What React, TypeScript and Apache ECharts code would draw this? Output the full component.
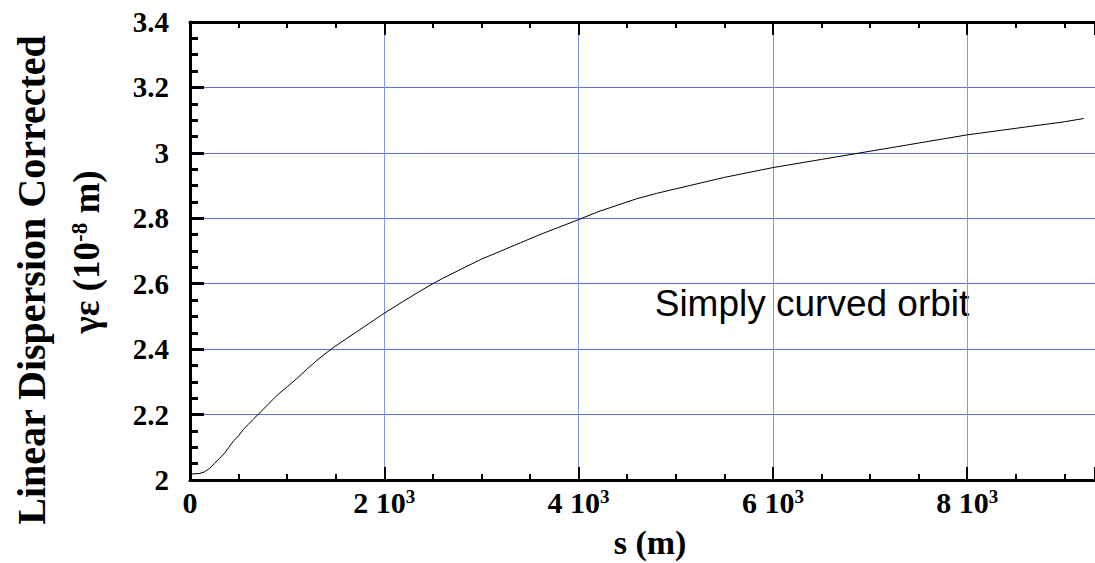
import React, { useEffect, useRef } from 'react';
import * as echarts from 'echarts';

// s (m)
const sValues = [
  0, 100, 150, 200, 250, 300, 350, 400, 450, 500, 550, 600, 650, 700, 800, 900, 1000,
  1100, 1200, 1300, 1400, 1500, 1600, 1700, 1800, 1900, 2000, 2200, 2400, 2500, 2600,
  2800, 3000, 3200, 3400, 3600, 3800, 4000, 4200, 4400, 4600, 4800, 5000, 5500, 6000,
  6500, 7000, 7500, 8000, 8500, 9000, 9200,
];
// γε (10^-8 m)
const emittance = [
  2.018, 2.02, 2.025, 2.035, 2.05, 2.065, 2.08, 2.1, 2.12, 2.135, 2.155, 2.17, 2.185, 2.2,
  2.23, 2.26, 2.285, 2.31, 2.338, 2.364, 2.388, 2.41, 2.43, 2.45, 2.47, 2.49, 2.51, 2.547,
  2.583, 2.6, 2.616, 2.646, 2.675, 2.7, 2.725, 2.75, 2.773, 2.796, 2.82, 2.84, 2.86, 2.876,
  2.89, 2.925, 2.955, 2.98, 3.005, 3.03, 3.055, 3.075, 3.095, 3.105,
];
const xTickValues = [0, 2000, 4000, 6000, 8000];
const xTickMantissas = ['0', '2', '4', '6', '8'];
const yTitleLine1 = 'Linear Dispersion Corrected';
const xTitle = 's (m)';
const annotation = 'Simply curved orbit';

const SERIF = '"Liberation Serif", "Times New Roman", serif';
const SANS = '"Liberation Sans", Arial, sans-serif';

export default function App() {
  const ref = useRef<HTMLDivElement>(null);
  useEffect(() => {
    if (!ref.current) return;
    const chart = echarts.init(ref.current, null, { renderer: 'svg' });
    const data = sValues.map((s, i) => [s, emittance[i]]);
    const xFormatter = (v: number) => {
      const idx = xTickValues.indexOf(v);
      if (idx < 0) return '';
      if (v === 0) return '{n|' + xTickMantissas[idx] + '}';
      return '{n|' + xTickMantissas[idx] + ' 10}{sup|3}';
    };
    const xMax = 9315;
    const xAxisCommon = {
      type: 'value',
      min: 0,
      max: xMax,
      interval: 2000,
      axisLine: { show: true, lineStyle: { color: '#000', width: 3 } },
      axisTick: { show: true, inside: true, length: 13, lineStyle: { color: '#000', width: 2 } },
      minorTick: { show: true, splitNumber: 4, length: 6, lineStyle: { color: '#000', width: 2 } },
    };
    chart.setOption({
      animation: false,
      backgroundColor: '#fff',
      grid: { left: 190, top: 22, bottom: 83, right: 0, containLabel: false },
      xAxis: [
        {
          ...xAxisCommon,
          position: 'bottom',
          axisLabel: {
            formatter: xFormatter,
            margin: 7,
            showMaxLabel: false,
            rich: {
              n: { fontFamily: SERIF, fontWeight: 'bold', fontSize: 30, color: '#000' },
              sup: { fontFamily: SERIF, fontWeight: 'bold', fontSize: 19, color: '#000', verticalAlign: 'top' },
            },
          },
          splitLine: { show: true, lineStyle: { color: '#8193ee', width: 1, type: 'solid' } },
        },
        {
          ...xAxisCommon,
          position: 'top',
          axisLabel: { show: false },
          splitLine: { show: false },
        },
      ],
      yAxis: {
        type: 'value',
        min: 2,
        max: 3.4,
        interval: 0.2,
        axisLine: { show: true, lineStyle: { color: '#000', width: 3 } },
        axisTick: { show: true, inside: true, length: 14, lineStyle: { color: '#000', width: 3 } },
        minorTick: { show: true, splitNumber: 4, length: 8, lineStyle: { color: '#000', width: 3 } },
        axisLabel: {
          margin: 21,
          fontFamily: SERIF,
          fontWeight: 'bold',
          fontSize: 29,
          color: '#000',
        },
        splitLine: { show: true, lineStyle: { color: '#5a70e0', width: 1, type: 'solid' } },
      },
      graphic: [
        {
          type: 'text',
          x: 31,
          y: 280,
          rotation: Math.PI / 2,
          style: {
            text: yTitleLine1,
            fontFamily: SERIF,
            fontWeight: 'bold',
            fontSize: 40,
            fill: '#000',
            align: 'center',
            verticalAlign: 'middle',
          },
        },
        {
          type: 'text',
          x: 86,
          y: 252,
          rotation: Math.PI / 2,
          style: {
            text: '{t|γε (10}{sup|-8}{t| m)}',
            align: 'center',
            verticalAlign: 'middle',
            rich: {
              t: { fontFamily: SERIF, fontWeight: 'bold', fontSize: 37, fill: '#000' },
              sup: { fontFamily: SERIF, fontWeight: 'bold', fontSize: 23, fill: '#000', verticalAlign: 'top' },
            },
          },
        },
        {
          type: 'text',
          x: 650,
          y: 542,
          style: {
            text: xTitle,
            fontFamily: SERIF,
            fontWeight: 'bold',
            fontSize: 34,
            fill: '#000',
            align: 'center',
            verticalAlign: 'middle',
          },
        },
        {
          type: 'text',
          x: 812,
          y: 303,
          style: {
            text: annotation,
            fontFamily: SANS,
            fontSize: 37,
            fill: '#000',
            align: 'center',
            verticalAlign: 'middle',
          },
        },
      ],
      series: [
        {
          type: 'line',
          data,
          xAxisIndex: 0,
          showSymbol: false,
          symbol: 'none',
          lineStyle: { color: '#000', width: 1 },
          clip: true,
        },
      ],
    });
    return () => chart.dispose();
  }, []);
  return <div ref={ref} style={{ position: 'absolute', left: 0, top: 0, width: 1095, height: 563 }} />;
}
